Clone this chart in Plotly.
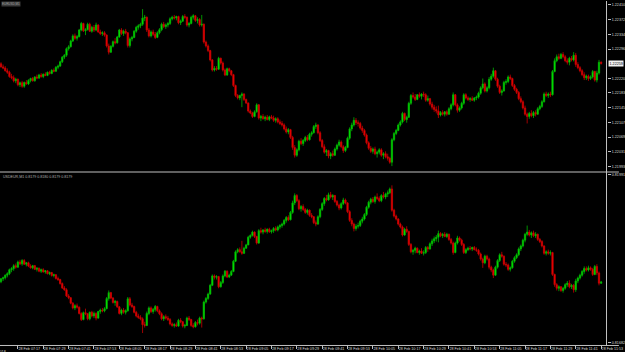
import numpy as np
import plotly.graph_objects as go

symbol = "EURUSD,M1"
inv_symbol = "USDEUR,M1"
date_label = "28 Feb"
first_bar_time = "07:09"
time_labels = ["07:17", "07:29", "07:41", "07:53", "08:05", "08:17", "08:29", "08:41",
               "08:53", "09:05", "09:17", "09:29", "09:41", "09:53", "10:05", "10:17",
               "10:29", "10:41", "10:53", "11:05", "11:17", "11:29", "11:41", "11:53"]
price_ticks = [1.22410, 1.22372, 1.22334, 1.22296, 1.22220,
               1.22183, 1.22145, 1.22107, 1.22069, 1.22031, 1.21993]
inv_ticks = [0.81991, 0.81682]

open_ = [
1.22258,1.22250,1.22247,1.22240,1.22236,1.22225,1.22222,1.22214,1.22218,1.22204,
1.22209,1.22200,1.22210,1.22206,1.22215,1.22220,1.22214,1.22224,1.22221,1.22229,
1.22225,1.22231,1.22228,1.22236,1.22233,1.22241,1.22239,1.22249,1.22252,1.22263,
1.22275,1.22280,1.22297,1.22302,1.22317,1.22330,1.22324,1.22328,1.22345,1.22362,
1.22343,1.22346,1.22360,1.22342,1.22352,1.22345,1.22358,1.22340,1.22336,1.22338,
1.22332,1.22304,1.22288,1.22303,1.22315,1.22312,1.22327,1.22345,1.22336,1.22342,
1.22338,1.22305,1.22322,1.22326,1.22342,1.22352,1.22356,1.22360,1.22376,1.22378,
1.22345,1.22330,1.22340,1.22334,1.22326,1.22338,1.22346,1.22360,1.22354,1.22358,
1.22362,1.22374,1.22378,1.22376,1.22380,1.22364,1.22368,1.22380,1.22378,1.22358,
1.22362,1.22378,1.22382,1.22370,1.22372,1.22358,1.22360,1.22314,1.22304,1.22292,
1.22268,1.22242,1.22246,1.22244,1.22272,1.22260,1.22242,1.22229,1.22245,1.22240,
1.22230,1.22202,1.22176,1.22170,1.22176,1.22180,1.22166,1.22157,1.22136,1.22131,
1.22122,1.22134,1.22152,1.22118,1.22122,1.22116,1.22120,1.22114,1.22121,1.22118,
1.22112,1.22116,1.22108,1.22104,1.22100,1.22090,1.22082,1.22088,1.22068,1.22042,
1.22022,1.22036,1.22058,1.22052,1.22060,1.22068,1.22062,1.22076,1.22080,1.22096,
1.22100,1.22080,1.22060,1.22044,1.22030,1.22034,1.22020,1.22026,1.22022,1.22038,
1.22048,1.22056,1.22044,1.22034,1.22042,1.22066,1.22090,1.22100,1.22112,1.22106,
1.22104,1.22092,1.22086,1.22074,1.22054,1.22040,1.22032,1.22038,1.22026,1.22030,
1.22036,1.22022,1.22026,1.22018,1.22014,1.22004,1.22062,1.22078,1.22086,1.22100,
1.22108,1.22130,1.22114,1.22120,1.22156,1.22176,1.22172,1.22166,1.22178,1.22174,
1.22180,1.22178,1.22164,1.22168,1.22154,1.22146,1.22140,1.22136,1.22126,1.22132,
1.22128,1.22134,1.22128,1.22142,1.22152,1.22178,1.22152,1.22138,1.22144,1.22156,
1.22178,1.22170,1.22166,1.22168,1.22164,1.22170,1.22172,1.22182,1.22196,1.22206,
1.22188,1.22196,1.22218,1.22226,1.22240,1.22218,1.22200,1.22184,1.22188,1.22210,
1.22212,1.22224,1.22220,1.22202,1.22192,1.22184,1.22168,1.22160,1.22144,1.22128,
1.22122,1.22130,1.22124,1.22132,1.22128,1.22142,1.22148,1.22160,1.22180,1.22176,
1.22180,1.22178,1.22238,1.22266,1.22276,1.22272,1.22282,1.22276,1.22266,1.22262,
1.22272,1.22268,1.22280,1.22256,1.22248,1.22240,1.22230,1.22222,1.22226,1.22220,
1.22224,1.22238,1.22216,1.22234,1.22262]

high = [
1.22262,1.22256,1.22252,1.22246,1.22240,1.22232,1.22228,1.22222,1.22220,1.22212,
1.22214,1.22212,1.22216,1.22218,1.22222,1.22224,1.22226,1.22230,1.22232,1.22234,
1.22233,1.22236,1.22238,1.22240,1.22244,1.22246,1.22252,1.22256,1.22266,1.22278,
1.22283,1.22300,1.22306,1.22320,1.22334,1.22336,1.22332,1.22348,1.22366,1.22364,
1.22350,1.22364,1.22364,1.22356,1.22358,1.22364,1.22360,1.22346,1.22342,1.22342,
1.22334,1.22310,1.22306,1.22318,1.22324,1.22330,1.22348,1.22350,1.22346,1.22348,
1.22340,1.22326,1.22330,1.22345,1.22356,1.22360,1.22364,1.22399,1.22384,1.22380,
1.22350,1.22344,1.22346,1.22340,1.22342,1.22350,1.22364,1.22366,1.22362,1.22366,
1.22378,1.22382,1.22384,1.22382,1.22382,1.22372,1.22384,1.22386,1.22380,1.22366,
1.22382,1.22386,1.22384,1.22378,1.22376,1.22384,1.22362,1.22318,1.22308,1.22294,
1.22270,1.22252,1.22252,1.22276,1.22274,1.22264,1.22246,1.22248,1.22248,1.22242,
1.22232,1.22204,1.22180,1.22178,1.22184,1.22182,1.22168,1.22158,1.22140,1.22134,
1.22138,1.22156,1.22154,1.22126,1.22128,1.22124,1.22126,1.22124,1.22126,1.22124,
1.22120,1.22120,1.22114,1.22110,1.22104,1.22096,1.22092,1.22090,1.22072,1.22048,
1.22040,1.22062,1.22066,1.22064,1.22072,1.22074,1.22080,1.22084,1.22100,1.22106,
1.22102,1.22084,1.22064,1.22050,1.22038,1.22036,1.22030,1.22034,1.22042,1.22052,
1.22062,1.22060,1.22048,1.22046,1.22070,1.22094,1.22106,1.22120,1.22118,1.22112,
1.22108,1.22098,1.22090,1.22078,1.22058,1.22046,1.22042,1.22044,1.22034,1.22040,
1.22040,1.22030,1.22032,1.22026,1.22018,1.22066,1.22082,1.22090,1.22104,1.22112,
1.22134,1.22132,1.22124,1.22160,1.22180,1.22184,1.22180,1.22180,1.22184,1.22182,
1.22186,1.22182,1.22176,1.22170,1.22160,1.22152,1.22148,1.22150,1.22136,1.22138,
1.22136,1.22138,1.22146,1.22156,1.22184,1.22180,1.22156,1.22148,1.22160,1.22182,
1.22182,1.22174,1.22172,1.22174,1.22172,1.22176,1.22186,1.22200,1.22220,1.22210,
1.22200,1.22224,1.22232,1.22248,1.22242,1.22222,1.22204,1.22192,1.22214,1.22218,
1.22228,1.22230,1.22222,1.22206,1.22196,1.22188,1.22174,1.22164,1.22150,1.22132,
1.22134,1.22138,1.22136,1.22138,1.22146,1.22152,1.22164,1.22184,1.22186,1.22184,
1.22186,1.22242,1.22272,1.22282,1.22284,1.22286,1.22288,1.22280,1.22272,1.22276,
1.22278,1.22288,1.22286,1.22262,1.22252,1.22244,1.22236,1.22230,1.22230,1.22228,
1.22242,1.22240,1.22240,1.22268,1.22264]

low = [
1.22248,1.22244,1.22238,1.22232,1.22222,1.22218,1.22210,1.22208,1.22200,1.22198,
1.22196,1.22196,1.22204,1.22203,1.22210,1.22212,1.22212,1.22218,1.22219,1.22222,
1.22221,1.22226,1.22226,1.22230,1.22231,1.22236,1.22237,1.22244,1.22250,1.22260,
1.22270,1.22276,1.22292,1.22300,1.22314,1.22320,1.22318,1.22326,1.22342,1.22340,
1.22332,1.22344,1.22340,1.22338,1.22340,1.22342,1.22338,1.22332,1.22330,1.22328,
1.22300,1.22282,1.22286,1.22300,1.22308,1.22310,1.22325,1.22332,1.22330,1.22334,
1.22300,1.22300,1.22316,1.22324,1.22338,1.22346,1.22350,1.22356,1.22368,1.22340,
1.22326,1.22326,1.22330,1.22322,1.22324,1.22334,1.22342,1.22350,1.22348,1.22352,
1.22358,1.22370,1.22372,1.22370,1.22360,1.22358,1.22366,1.22374,1.22354,1.22352,
1.22360,1.22372,1.22366,1.22362,1.22354,1.22354,1.22310,1.22300,1.22288,1.22264,
1.22238,1.22238,1.22240,1.22242,1.22256,1.22238,1.22226,1.22227,1.22236,1.22226,
1.22198,1.22172,1.22166,1.22164,1.22146,1.22162,1.22154,1.22132,1.22128,1.22118,
1.22120,1.22132,1.22114,1.22110,1.22114,1.22110,1.22112,1.22110,1.22115,1.22108,
1.22106,1.22104,1.22100,1.22096,1.22086,1.22078,1.22076,1.22064,1.22036,1.22016,
1.22018,1.22032,1.22048,1.22046,1.22056,1.22058,1.22060,1.22070,1.22078,1.22090,
1.22076,1.22056,1.22040,1.22026,1.22020,1.22014,1.22012,1.22018,1.22020,1.22034,
1.22044,1.22040,1.22028,1.22030,1.22040,1.22062,1.22084,1.22096,1.22100,1.22096,
1.22088,1.22080,1.22070,1.22050,1.22036,1.22028,1.22026,1.22022,1.22016,1.22024,
1.22018,1.22012,1.22014,1.22008,1.22000,1.21994,1.22058,1.22074,1.22084,1.22096,
1.22104,1.22110,1.22106,1.22118,1.22152,1.22168,1.22162,1.22164,1.22170,1.22166,
1.22172,1.22160,1.22160,1.22150,1.22140,1.22134,1.22130,1.22118,1.22122,1.22124,
1.22122,1.22124,1.22126,1.22138,1.22148,1.22148,1.22132,1.22134,1.22140,1.22152,
1.22166,1.22162,1.22160,1.22162,1.22160,1.22164,1.22168,1.22178,1.22192,1.22184,
1.22184,1.22192,1.22214,1.22222,1.22214,1.22196,1.22180,1.22176,1.22186,1.22204,
1.22208,1.22216,1.22198,1.22188,1.22180,1.22164,1.22156,1.22140,1.22124,1.22104,
1.22116,1.22120,1.22118,1.22122,1.22126,1.22138,1.22144,1.22158,1.22172,1.22170,
1.22172,1.22176,1.22236,1.22262,1.22268,1.22270,1.22272,1.22262,1.22256,1.22254,
1.22264,1.22264,1.22250,1.22244,1.22236,1.22226,1.22216,1.22216,1.22214,1.22216,
1.22220,1.22212,1.22210,1.22230,1.22256]

close = [
1.22250,1.22247,1.22240,1.22236,1.22225,1.22222,1.22214,1.22218,1.22204,1.22209,
1.22200,1.22210,1.22206,1.22215,1.22220,1.22214,1.22224,1.22221,1.22229,1.22225,
1.22231,1.22228,1.22236,1.22233,1.22241,1.22239,1.22249,1.22252,1.22263,1.22275,
1.22280,1.22297,1.22302,1.22317,1.22330,1.22324,1.22328,1.22345,1.22362,1.22343,
1.22346,1.22360,1.22342,1.22352,1.22345,1.22358,1.22340,1.22336,1.22338,1.22332,
1.22304,1.22288,1.22303,1.22315,1.22312,1.22327,1.22345,1.22336,1.22342,1.22338,
1.22305,1.22322,1.22326,1.22342,1.22352,1.22356,1.22360,1.22376,1.22378,1.22345,
1.22330,1.22340,1.22334,1.22326,1.22338,1.22346,1.22360,1.22354,1.22358,1.22362,
1.22374,1.22378,1.22376,1.22380,1.22364,1.22368,1.22380,1.22378,1.22358,1.22362,
1.22378,1.22382,1.22370,1.22372,1.22358,1.22360,1.22314,1.22304,1.22292,1.22268,
1.22242,1.22246,1.22244,1.22272,1.22260,1.22242,1.22229,1.22245,1.22240,1.22230,
1.22202,1.22176,1.22170,1.22176,1.22180,1.22166,1.22157,1.22136,1.22131,1.22122,
1.22134,1.22152,1.22118,1.22122,1.22116,1.22120,1.22114,1.22121,1.22118,1.22112,
1.22116,1.22108,1.22104,1.22100,1.22090,1.22082,1.22088,1.22068,1.22042,1.22022,
1.22036,1.22058,1.22052,1.22060,1.22068,1.22062,1.22076,1.22080,1.22096,1.22100,
1.22080,1.22060,1.22044,1.22030,1.22034,1.22020,1.22026,1.22022,1.22038,1.22048,
1.22056,1.22044,1.22034,1.22042,1.22066,1.22090,1.22100,1.22112,1.22106,1.22104,
1.22092,1.22086,1.22074,1.22054,1.22040,1.22032,1.22038,1.22026,1.22030,1.22036,
1.22022,1.22026,1.22018,1.22014,1.22004,1.22062,1.22078,1.22086,1.22100,1.22108,
1.22130,1.22114,1.22120,1.22156,1.22176,1.22172,1.22166,1.22178,1.22174,1.22180,
1.22178,1.22164,1.22168,1.22154,1.22146,1.22140,1.22136,1.22126,1.22132,1.22128,
1.22134,1.22128,1.22142,1.22152,1.22178,1.22152,1.22138,1.22144,1.22156,1.22178,
1.22170,1.22166,1.22168,1.22164,1.22170,1.22172,1.22182,1.22196,1.22206,1.22188,
1.22196,1.22218,1.22226,1.22240,1.22218,1.22200,1.22184,1.22188,1.22210,1.22212,
1.22224,1.22220,1.22202,1.22192,1.22184,1.22168,1.22160,1.22144,1.22128,1.22122,
1.22130,1.22124,1.22132,1.22128,1.22142,1.22148,1.22160,1.22180,1.22176,1.22180,
1.22178,1.22238,1.22266,1.22276,1.22272,1.22282,1.22276,1.22266,1.22262,1.22272,
1.22268,1.22280,1.22256,1.22248,1.22240,1.22230,1.22222,1.22226,1.22220,1.22224,
1.22238,1.22216,1.22234,1.22262,1.22259]

o = np.array(open_)
h = np.array(high)
l = np.array(low)
c = np.array(close)
n = len(c)
idx = np.arange(n)


def minutes(s):
    hh, mm = s.split(":")
    return int(hh) * 60 + int(mm)


tick_pos = [minutes(t) - minutes(first_bar_time) for t in time_labels]
tick_text = [f"{date_label} {t}" for t in time_labels]

W, H = 625, 352
ML, MR, MT, MB = 0, 12, 0, 7
PW, PH = W - ML - MR, H - MT - MB
px_per_bar = 2.134
x_lo = -1 / px_per_bar
x_hi = x_lo + PW / px_per_bar

GREEN_FILL, GREEN_LINE = "#00ff00", "#00b400"
RED_FILL, RED_LINE = "#ff0000", "#c80000"
AXC = "#c0c0c0"
TXT = "#d8d8d8"
FONT = "Liberation Sans"
TICK_SIZE = 3.7

candle_style = dict(
    increasing=dict(line=dict(color=GREEN_LINE, width=0.8), fillcolor=GREEN_FILL),
    decreasing=dict(line=dict(color=RED_LINE, width=0.8), fillcolor=RED_FILL),
    whiskerwidth=0, showlegend=False, hoverinfo="skip",
)

fig = go.Figure()
fig.add_trace(go.Candlestick(x=idx, open=o, high=h, low=l, close=c,
                             xaxis="x", yaxis="y", **candle_style))
fig.add_trace(go.Candlestick(x=idx, open=1 / o, high=1 / l, low=1 / h, close=1 / c,
                             xaxis="x2", yaxis="y2", **candle_style))

top_dom = [1 - 171 / PH, 1]
bot_dom = [0, (PH - 173) / PH]

axis_common = dict(showgrid=False, zeroline=False, showline=False)
fig.update_layout(
    width=W, height=H,
    margin=dict(l=ML, r=MR, t=MT, b=MB, pad=0),
    paper_bgcolor="black", plot_bgcolor="black",
    font=dict(family=FONT, color=TXT, size=4),
    showlegend=False,
    boxgap=0.12,
    xaxis=dict(domain=[0, 1], anchor="y", range=[x_lo, x_hi], showticklabels=False,
               ticks="", rangeslider=dict(visible=False), **axis_common),
    yaxis=dict(domain=top_dom, anchor="x", side="right", range=[1.21980, 1.22420],
               tickvals=price_ticks, ticktext=[f"{v:.5f}" for v in price_ticks],
               ticks="outside", ticklen=3, tickcolor=AXC,
               tickfont=dict(size=TICK_SIZE, color=TXT, family=FONT), **axis_common),
    xaxis2=dict(domain=[0, 1], anchor="y2", range=[x_lo, x_hi],
                tickvals=tick_pos, ticktext=tick_text, tickangle=0,
                ticklabelposition="outside right", ticks="outside", ticklen=3,
                tickcolor=AXC, tickfont=dict(size=TICK_SIZE, color=TXT, family=FONT),
                rangeslider=dict(visible=False), **axis_common),
    yaxis2=dict(domain=bot_dom, anchor="x2", side="right", range=[0.81678, 0.81993],
                tickvals=inv_ticks, ticktext=[f"{v:.5f}" for v in inv_ticks],
                ticks="outside", ticklen=3, tickcolor=AXC,
                tickfont=dict(size=TICK_SIZE, color=TXT, family=FONT), **axis_common),
)

sep_y = (PH - 171.5) / PH
full_x = W / PW
fig.update_layout(shapes=[
    dict(type="line", xref="paper", yref="paper", x0=0, x1=full_x, y0=sep_y, y1=sep_y,
         line=dict(color=AXC, width=1)),
    dict(type="line", xref="paper", yref="paper", x0=0, x1=full_x, y0=-0.5 / PH, y1=-0.5 / PH,
         line=dict(color=AXC, width=1)),
    dict(type="line", xref="paper", yref="paper", x0=(PW - 0.5) / PW, x1=(PW - 0.5) / PW,
         y0=-0.5 / PH, y1=1, line=dict(color=AXC, width=1)),
])

last = c[-1]
inv_last = [1 / o[-1], 1 / l[-1], 1 / h[-1], 1 / c[-1]]
fig.update_layout(annotations=[
    dict(text=symbol, xref="paper", yref="paper", x=0.001, y=1.0, xanchor="left",
         yanchor="top", showarrow=False, font=dict(size=3, color="#a0a0a0", family=FONT),
         bgcolor="#3a3a3a", borderpad=0),
    dict(text=inv_symbol + " " + " ".join(f"{v:.4f}" for v in inv_last),
         xref="paper", yref="paper", x=0.002, y=(PH - 176.5) / PH, xanchor="left",
         yanchor="middle", showarrow=False, font=dict(size=3.6, color="#b0b0b0", family=FONT)),
    dict(text=f"{last:.5f}", xref="paper", yref="y", x=(PW + 1.5) / PW, y=last,
         xanchor="left", yanchor="middle", showarrow=False,
         font=dict(size=TICK_SIZE, color="black", family=FONT), bgcolor="#f0f0f0", borderpad=0.5),
    dict(text="28 Feb 2018", xref="paper", yref="paper", x=8.5 / PW, y=-3.5 / PH,
         xanchor="right", yanchor="top", showarrow=False,
         font=dict(size=TICK_SIZE, color=TXT, family=FONT)),
])

fig.write_html("out.html")
